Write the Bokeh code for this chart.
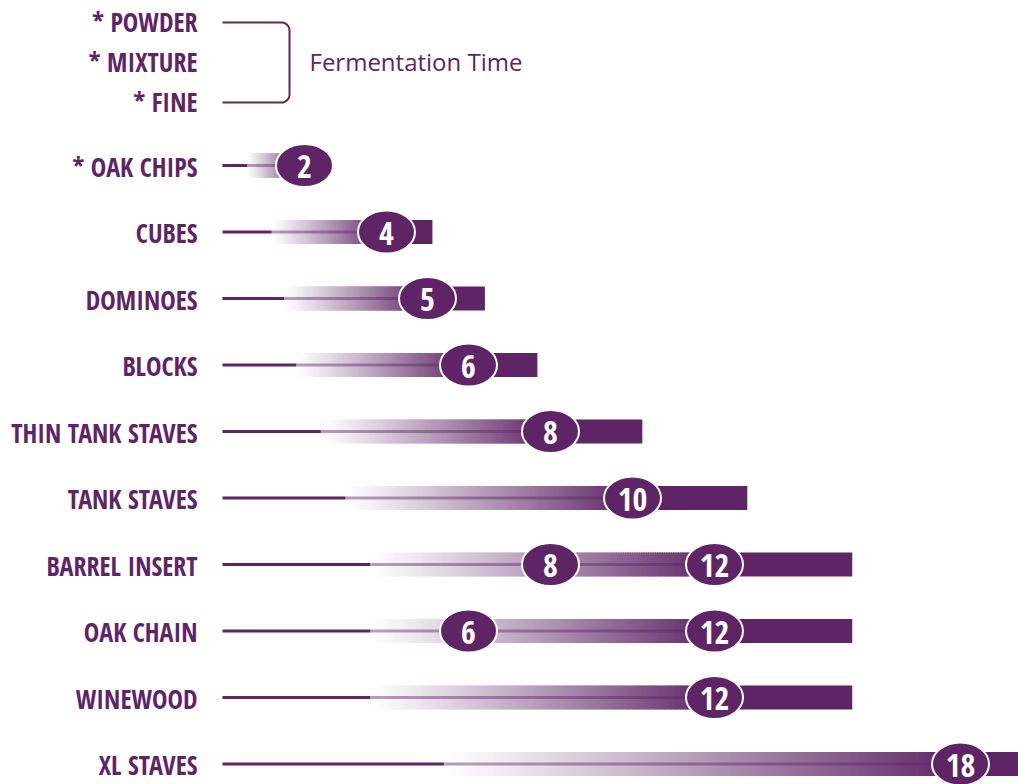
import numpy as np
from bokeh.plotting import figure
from bokeh.models import Range1d, ColumnDataSource
from bokeh.core.properties import value
from bokeh.embed import file_html
from bokeh.resources import INLINE

# ---------------- data ----------------
labels = ["* OAK CHIPS", "CUBES", "DOMINOES", "BLOCKS", "THIN TANK STAVES",
          "TANK STAVES", "BARREL INSERT", "OAK CHAIN", "WINEWOOD", "XL STAVES"]
high_values = [2, 4, 5, 6, 8, 10, 12, 12, 12, 18]
low_values = [None, None, None, None, None, None, 8, 6, None, None]
top_labels = ["* POWDER", "* MIXTURE", "* FINE"]
bracket_label = "Fermentation Time"

# ---------------- style ----------------
PURPLE = "#5e2465"
LABEL_FONT = "Open Sans Condensed"
W, H = 1018, 784
PXX, PXY = 41.0, 66.5          # pixels per data unit
X0PX, Y0PX = 222.0, 165.0      # pixel position of data origin
BAND_HALF = 12.0 / PXY
GRAD_START = 0.3               # gradient starts at this fraction of the row maximum
BAR_EXT = 1.28                 # solid bar extends to this multiple of the maximum
LABEL_X = -25.0 / PXX
TOP_SPACING = 40.0 / PXY
TOP_LAST = -63.0 / PXY

p = figure(width=W, height=H,
           x_range=Range1d(-X0PX / PXX, (W - X0PX) / PXX),
           y_range=Range1d((H - Y0PX) / PXY, -Y0PX / PXY),
           output_backend="svg", toolbar_location=None, min_border=0)
p.axis.visible = False
p.grid.visible = False
p.outline_line_color = None
p.background_fill_color = "white"


def mix(a):
    r0, g0, b0 = int(PURPLE[1:3], 16), int(PURPLE[3:5], 16), int(PURPLE[5:7], 16)
    r = round(255 * (1 - a) + r0 * a)
    g = round(255 * (1 - a) + g0 * a)
    b = round(255 * (1 - a) + b0 * a)
    return "#%02x%02x%02x" % (r, g, b)


rows = list(range(len(labels)))

# gradient bands
gl, gr, gt, gb, gc = [], [], [], [], []
N = 150
for i, m in zip(rows, high_values):
    gs = GRAD_START * m
    edges = np.linspace(gs, m, N + 1)
    for k in range(N):
        a = ((k + 0.5) / N) ** 1.1
        gl.append(edges[k])
        gr.append(edges[k + 1] + 0.03)
        gt.append(i - BAND_HALF)
        gb.append(i + BAND_HALF)
        gc.append(mix(a))
p.quad(left=gl, right=gr, top=gt, bottom=gb, fill_color=gc, line_color=None)

# solid part of the bars
p.quad(left=high_values, right=[BAR_EXT * m for m in high_values],
       top=[i - BAND_HALF for i in rows], bottom=[i + BAND_HALF for i in rows],
       fill_color=PURPLE, line_color=None)

# thin lines
p.segment(x0=[0] * len(rows), y0=rows, x1=[GRAD_START * m for m in high_values], y1=rows,
          line_color=PURPLE, line_width=3)
p.segment(x0=[GRAD_START * m for m in high_values], y0=rows, x1=high_values, y1=rows,
          line_color=PURPLE, line_width=3, line_alpha=0.45)

# markers
cx, cy, ct = [], [], []
for i, (lo, hi) in enumerate(zip(low_values, high_values)):
    for v in (lo, hi):
        if v is not None:
            cx.append(v)
            cy.append(i)
            ct.append(str(v))
src = ColumnDataSource(dict(x=cx, y=cy, t=ct))
p.ellipse(x="x", y="y", width=57, height=43, width_units="screen", height_units="screen",
          fill_color=PURPLE, line_color="white", line_width=2, source=src)
p.text(x="x", y="y", text="t", source=src, text_color="white",
       text_font=value(LABEL_FONT), text_font_style="bold", text_font_size=value("32px"),
       text_align="center", text_baseline="middle", y_offset=1)

# row labels
p.text(x=[LABEL_X] * len(rows), y=rows, text=labels, text_color=PURPLE,
       text_font=value(LABEL_FONT), text_font_style="bold", text_font_size=value("26px"),
       text_align="right", text_baseline="middle", y_offset=1)

# top group
top_y = [TOP_LAST - TOP_SPACING * (len(top_labels) - 1 - k) for k in range(len(top_labels))]
p.text(x=[LABEL_X] * len(top_labels), y=top_y, text=top_labels, text_color=PURPLE,
       text_font=value(LABEL_FONT), text_font_style="bold", text_font_size=value("26px"),
       text_align="right", text_baseline="middle", y_offset=-1)

# bracket
bx = 67.0 / PXX
r = 8.0
y_top, y_bot = top_y[0], top_y[-1]
xs, ys = [0, bx - r / PXX], [y_top, y_top]
for t in np.linspace(-np.pi / 2, 0, 12):
    xs.append(bx - r / PXX + r * np.cos(t) / PXX)
    ys.append(y_top + r / PXY + r * np.sin(t) / PXY)
for t in np.linspace(0, np.pi / 2, 12):
    xs.append(bx - r / PXX + r * np.cos(t) / PXX)
    ys.append(y_bot - r / PXY + r * np.sin(t) / PXY)
xs += [bx - r / PXX, 0]
ys += [y_bot, y_bot]
p.line(xs, ys, line_color=PURPLE, line_width=2)

p.text(x=[bx + 20.0 / PXX], y=[top_y[1]], text=[bracket_label], text_color=PURPLE,
       text_font=value("Open Sans"), text_font_size=value("24px"),
       text_align="left", text_baseline="middle", y_offset=-1)

open("out.html", "w").write(file_html(p, INLINE))
